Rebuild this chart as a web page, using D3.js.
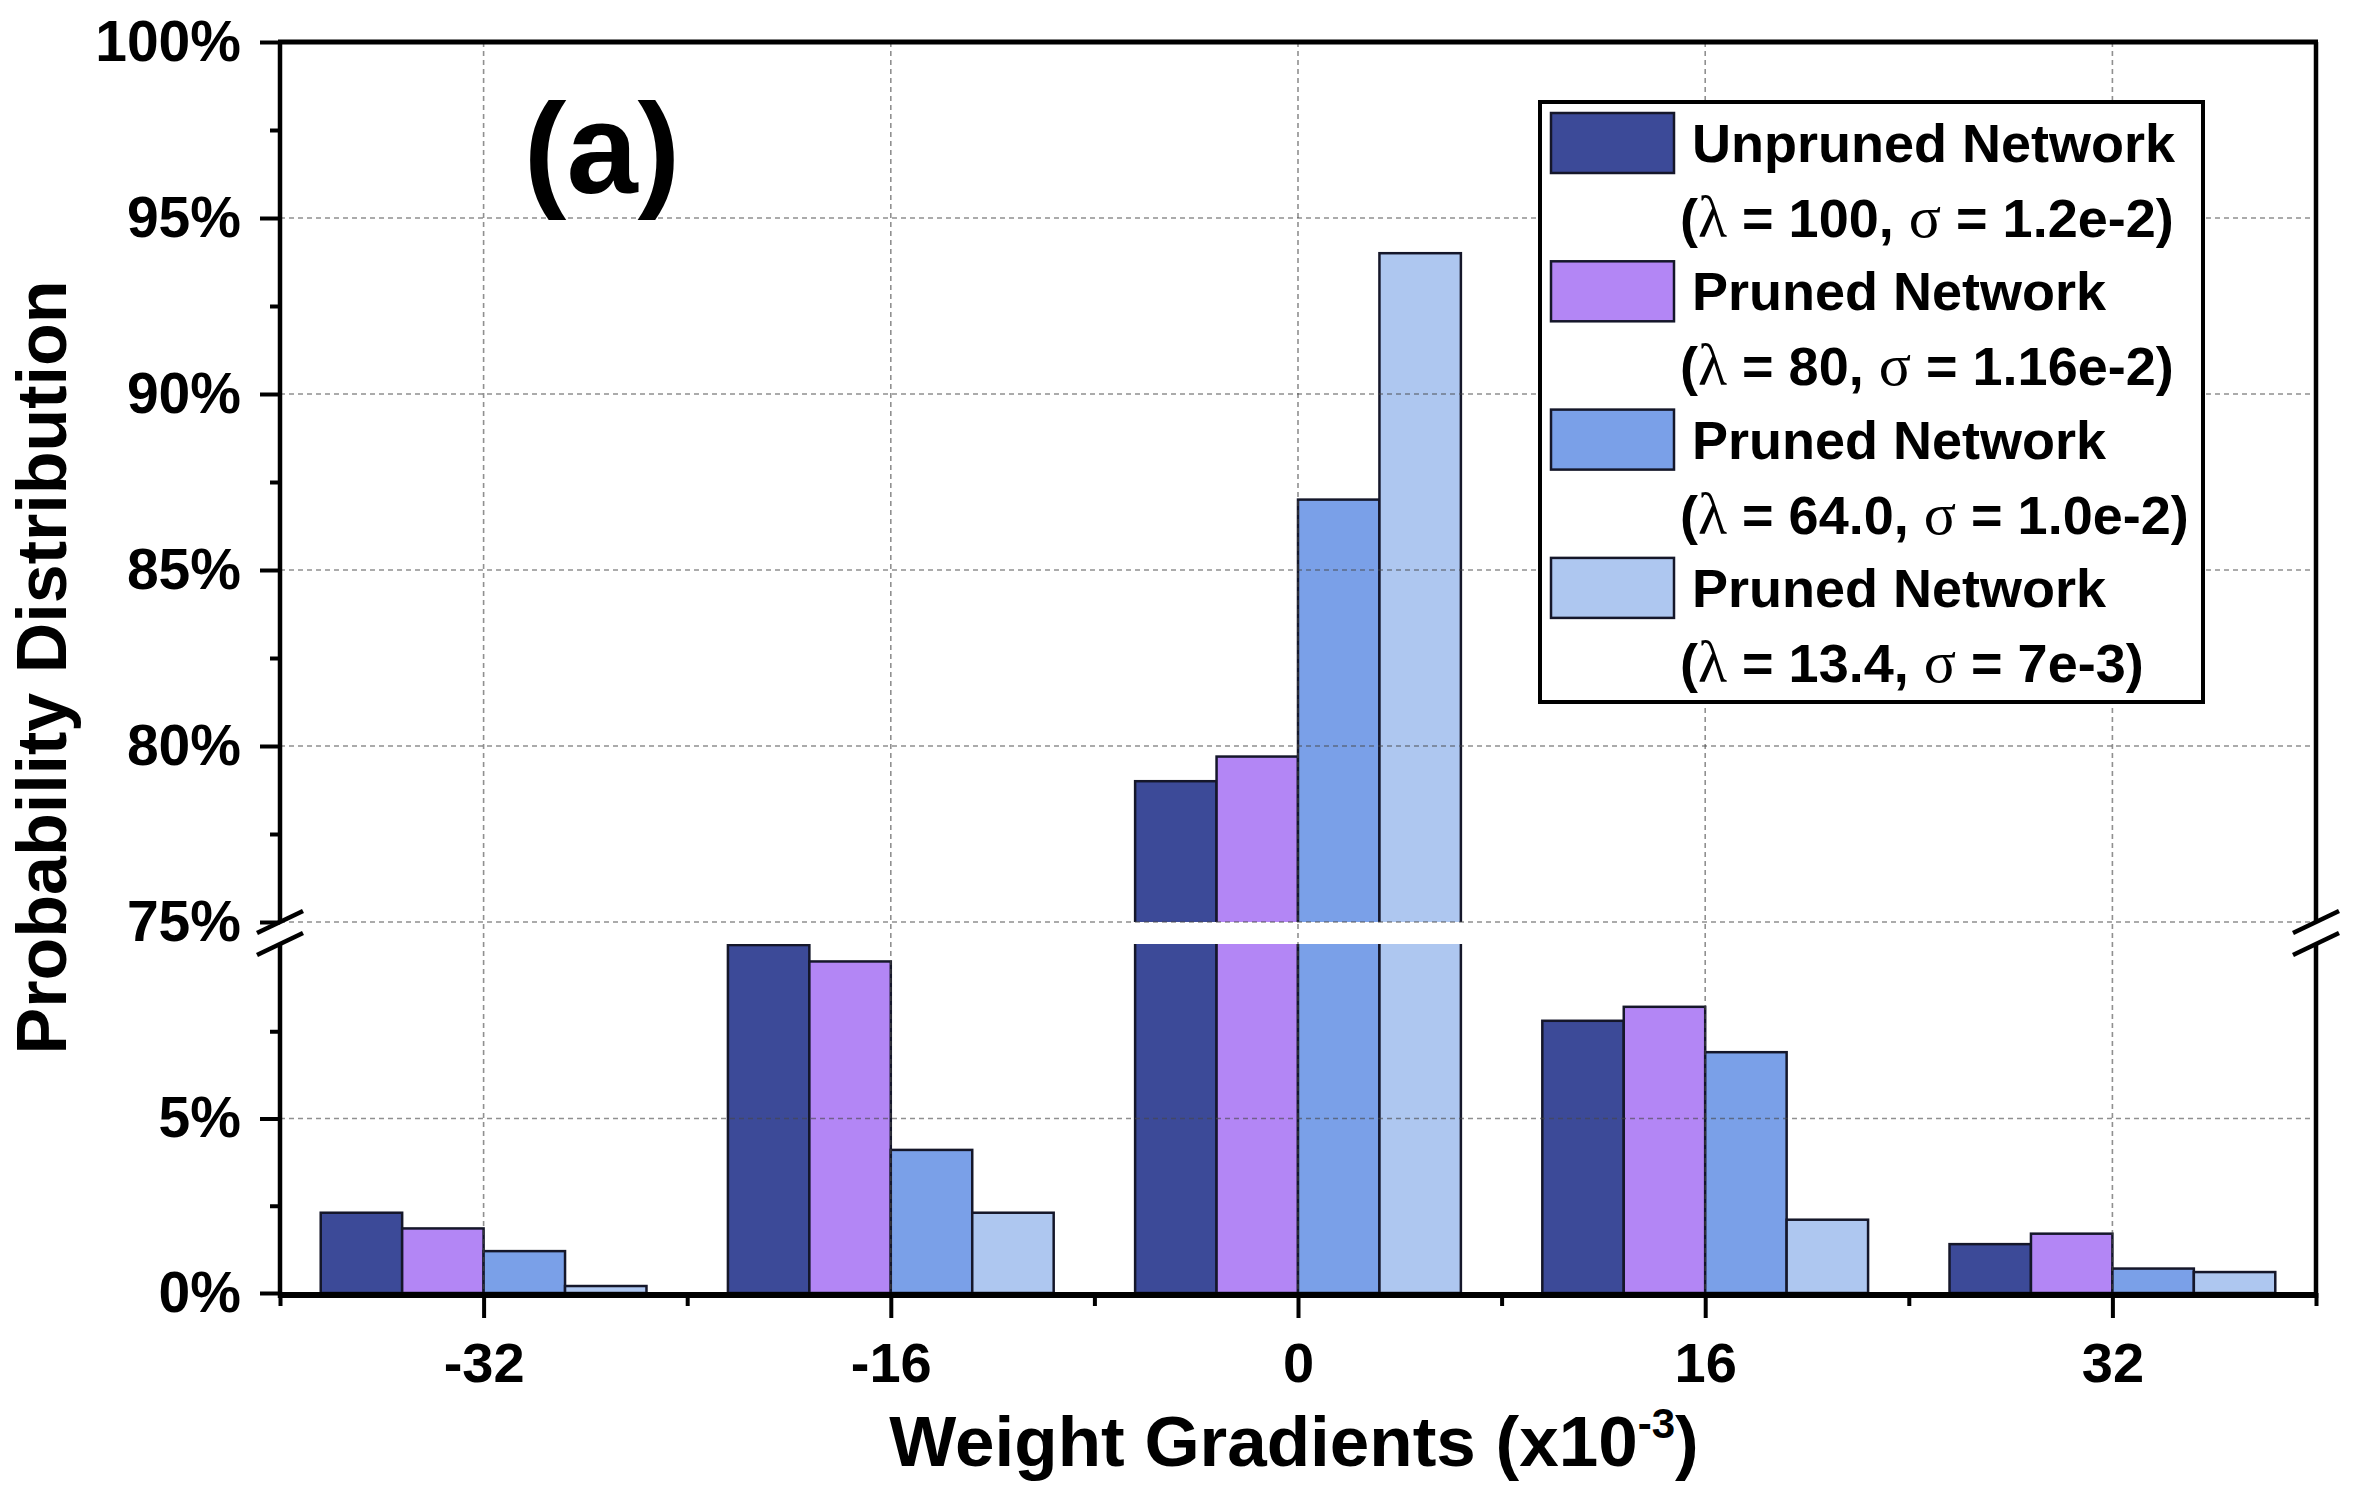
<!DOCTYPE html>
<html>
<head>
<meta charset="utf-8">
<script src="https://cdn.jsdelivr.net/npm/d3@7"></script>
<style>
  html, body { margin: 0; padding: 0; background: #fff; }
  svg { display: block; }
</style>
</head>
<body>
<svg id="chart" width="2358" height="1498"></svg>
<script>
// ---------------- DATA ----------------
const categories = [-32, -16, 0, 16, 32];
const seriesNames = ["Unpruned Network", "Pruned Network", "Pruned Network", "Pruned Network"];
const seriesParams = ["(λ = 100, σ = 1.2e-2)", "(λ = 80, σ = 1.16e-2)", "(λ = 64.0, σ = 1.0e-2)", "(λ = 13.4, σ = 7e-3)"];
const unpruned  = [2.3, 9.97, 79.0, 7.8, 1.4];
const pruned80  = [1.85, 9.5, 79.7, 8.2, 1.7];
const pruned64  = [1.2, 4.1, 87.0, 6.9, 0.7];
const pruned134 = [0.2, 2.3, 94.0, 2.1, 0.6];
const seriesColors = ["#3c4a98", "#b386f5", "#7aa0e8", "#aec7f0"];
const upperTicks = [75, 80, 85, 90, 95, 100];
const upperMinor = [77.5, 82.5, 87.5, 92.5, 97.5];
const lowerTicks = [0, 5];
const lowerMinor = [2.5, 7.5];
const xMinor = [-40, -24, -8, 8, 24, 40];
const xTitle = "Weight Gradients (x10";
const xTitleSup = "-3";
const yTitle = "Probability Distribution";
const panelLabel = "(a)";

const series = [unpruned, pruned80, pruned64, pruned134];

// ---------------- LAYOUT ----------------
const FONT = "'Liberation Sans', Arial, Helvetica, sans-serif";
const SERIF = "'Liberation Serif', 'Times New Roman', serif";
const L = 280, R = 2316, T = 42, B = 1293, breakU = 922, breakL = 944;

const svg = d3.select("#chart");
const x = d3.scaleLinear().domain([-40, 40]).range([L, R]);
const yU = d3.scaleLinear().domain([75, 100]).range([breakU, T]);
const yL = d3.scaleLinear().domain([0, 10]).range([B, breakL]);

const groupW = 12.8, barU = groupW / series.length;

const defs = svg.append("defs");
defs.append("clipPath").attr("id", "clipU").append("rect")
  .attr("x", L).attr("y", T).attr("width", R - L).attr("height", breakU - T);
defs.append("clipPath").attr("id", "clipL").append("rect")
  .attr("x", L).attr("y", breakL).attr("width", R - L).attr("height", B - breakL + 2);

// ---------------- BARS ----------------
const barData = [];
series.forEach((vals, s) => {
  vals.forEach((v, i) => {
    barData.push({ s, v, c: categories[i] });
  });
});
const bx = d => x(d.c - groupW / 2 + d.s * barU);
const bw = x(barU) - x(0);

const gU = svg.append("g").attr("clip-path", "url(#clipU)");
gU.selectAll("rect").data(barData.filter(d => d.v > 75)).join("rect")
  .attr("x", bx).attr("width", bw)
  .attr("y", d => yU(d.v))
  .attr("height", d => breakU + 20 - yU(d.v))
  .attr("fill", d => seriesColors[d.s])
  .attr("stroke", "#15172a").attr("stroke-width", 2.5);

const gL = svg.append("g").attr("clip-path", "url(#clipL)");
gL.selectAll("rect").data(barData).join("rect")
  .attr("x", bx).attr("width", bw)
  .attr("y", d => d.v > 10.2 ? breakL - 20 : yL(d.v))
  .attr("height", d => B - (d.v > 10.2 ? breakL - 20 : yL(d.v)))
  .attr("fill", d => seriesColors[d.s])
  .attr("stroke", "#15172a").attr("stroke-width", 2.5);

// ---------------- GRID ----------------
const grid = svg.append("g")
  .attr("stroke", "rgba(70,70,70,0.6)").attr("stroke-width", 1.6)
  .attr("stroke-dasharray", "5,4").attr("fill", "none");
grid.selectAll("line.v").data(categories).join("line").attr("class", "v")
  .attr("x1", d => x(d)).attr("x2", d => x(d)).attr("y1", T).attr("y2", B);
grid.selectAll("line.hu").data(upperTicks.filter(d => d < 100)).join("line").attr("class", "hu")
  .attr("x1", L).attr("x2", R).attr("y1", d => yU(d)).attr("y2", d => yU(d));
grid.selectAll("line.hl").data(lowerTicks.filter(d => d > 0)).join("line").attr("class", "hl")
  .attr("x1", L).attr("x2", R).attr("y1", d => yL(d)).attr("y2", d => yL(d));

// ---------------- AXES ----------------
function styleAxis(g, fs) {
  g.select(".domain").remove();
  g.selectAll(".tick line").attr("stroke", "#000").attr("stroke-width", 4);
  g.selectAll(".tick text").attr("fill", "#000")
    .style("font-family", FONT).style("font-weight", "bold").style("font-size", fs + "px");
}
const fmt = d => d + "%";
svg.append("g").attr("transform", `translate(${L},0)`)
  .call(d3.axisLeft(yU).tickValues(upperTicks).tickSize(20).tickPadding(19).tickFormat(fmt))
  .call(g => styleAxis(g, 57));
svg.append("g").attr("transform", `translate(${L},0)`)
  .call(d3.axisLeft(yU).tickValues(upperMinor).tickSize(10).tickFormat(""))
  .call(g => styleAxis(g, 57));
svg.append("g").attr("transform", `translate(${L},0)`)
  .call(d3.axisLeft(yL).tickValues(lowerTicks).tickSize(20).tickPadding(19).tickFormat(fmt))
  .call(g => styleAxis(g, 57));
svg.append("g").attr("transform", `translate(${L},0)`)
  .call(d3.axisLeft(yL).tickValues(lowerMinor).tickSize(10).tickFormat(""))
  .call(g => styleAxis(g, 57));

svg.append("g").attr("transform", `translate(0,${B})`)
  .call(d3.axisBottom(x).tickValues(categories).tickSize(25).tickPadding(24).tickFormat(d => d))
  .call(g => styleAxis(g, 56));
svg.append("g").attr("transform", `translate(0,${B})`)
  .call(d3.axisBottom(x).tickValues(xMinor).tickSize(13).tickFormat(""))
  .call(g => styleAxis(g, 56));

// frame lines
const frame = svg.append("g").attr("stroke", "#000").attr("fill", "none");
frame.append("line").attr("x1", L - 2).attr("x2", R + 2).attr("y1", T).attr("y2", T).attr("stroke-width", 5);
frame.append("line").attr("x1", L - 2).attr("x2", R + 2).attr("y1", B + 2).attr("y2", B + 2).attr("stroke-width", 6);
[L, R].forEach(xx => {
  frame.append("line").attr("x1", xx).attr("x2", xx).attr("y1", T).attr("y2", breakU).attr("stroke-width", 4.5);
  frame.append("line").attr("x1", xx).attr("x2", xx).attr("y1", breakL).attr("y2", B + 5).attr("stroke-width", 4.5);
  [breakU, breakL].forEach(yy => {
    frame.append("line").attr("x1", xx - 23).attr("y1", yy + 11).attr("x2", xx + 23).attr("y2", yy - 11)
      .attr("stroke-width", 4.5);
  });
});

// ---------------- TITLES ----------------
const xt = svg.append("text").attr("x", (L + R) / 2 - 4).attr("y", 1466).attr("text-anchor", "middle")
  .style("font-family", FONT).style("font-weight", "bold").style("font-size", "71px").attr("fill", "#000");
xt.append("tspan").text(xTitle);
xt.append("tspan").attr("dy", -28).style("font-size", "42px").text(xTitleSup);
xt.append("tspan").attr("dy", 28).text(")");

svg.append("text").attr("transform", `translate(66,${(T + B) / 2}) rotate(-90)`)
  .attr("text-anchor", "middle")
  .style("font-family", FONT).style("font-weight", "bold").style("font-size", "70px")
  .attr("fill", "#000").text(yTitle);

svg.append("text").attr("x", 602).attr("y", 193).attr("text-anchor", "middle")
  .style("font-family", FONT).style("font-weight", "bold").style("font-size", "128px")
  .attr("fill", "#000").text(panelLabel);

// ---------------- LEGEND ----------------
const lg = svg.append("g");
lg.append("rect").attr("x", 1540).attr("y", 102).attr("width", 663).attr("height", 600)
  .attr("fill", "#fff").attr("stroke", "#000").attr("stroke-width", 4);
const entryStep = 148.3, entryTop = 113;
seriesNames.forEach((name, s) => {
  const y0 = entryTop + s * entryStep;
  lg.append("rect").attr("x", 1551).attr("y", y0).attr("width", 123).attr("height", 60)
    .attr("fill", seriesColors[s]).attr("stroke", "#15172a").attr("stroke-width", 2.5);
  lg.append("text").attr("x", 1692).attr("y", y0 + 49)
    .style("font-family", FONT).style("font-weight", "bold").style("font-size", "54px")
    .attr("fill", "#000").text(name);
  const t2 = lg.append("text").attr("x", 1680).attr("y", y0 + 124)
    .style("font-family", FONT).style("font-weight", "bold").style("font-size", "54px").attr("fill", "#000");
  const parts = seriesParams[s].split(/([λσ])/);
  parts.forEach(p => {
    if (!p) return;
    const ts = t2.append("tspan").text(p);
    if (p === "λ" || p === "σ") ts.style("font-family", SERIF).style("font-weight", "normal").style("font-size", "60px");
  });
});
</script>
</body>
</html>
